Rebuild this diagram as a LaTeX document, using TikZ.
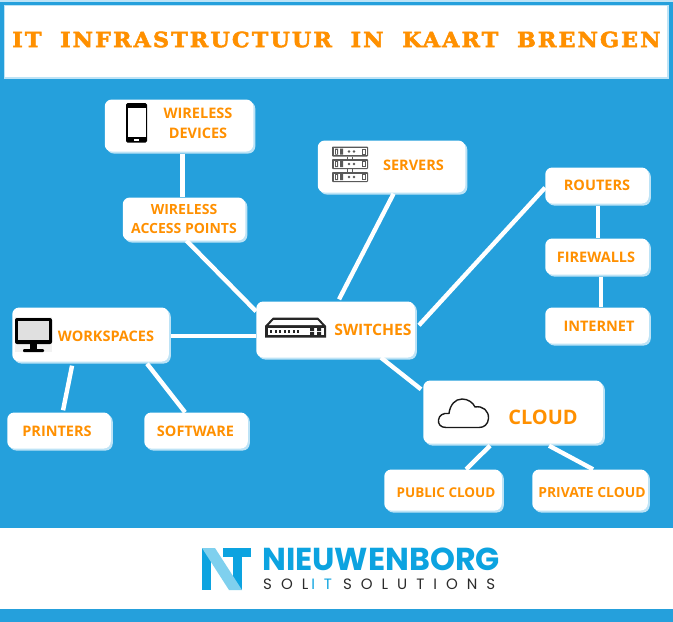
\documentclass[tikz,border=0pt]{standalone}
\usepackage{fontspec}
\setmainfont{Open Sans}
\newfontfamily\titlefont[UprightFont=* Bold,FakeBold=2.5,FakeStretch=1.06,LetterSpace=10,WordSpace=1.9]{DejaVu Serif}
\newfontfamily\logofont{Poppins}
\newfontfamily\logosub[LetterSpace=60]{Poppins}
\usetikzlibrary{calc,shadows}
\definecolor{bgblue}{HTML}{25A0DC}
\definecolor{edgeblue}{HTML}{BDE3F6}
\definecolor{orangetxt}{HTML}{FF9000}
\definecolor{logoblue}{HTML}{0CA3E0}
\definecolor{logolight}{HTML}{7FD0EE}
\definecolor{logodark}{HTML}{2B2B2B}
\tikzset{
  cardbox/.style 2 args={fill=white,rounded corners=7pt,minimum width=#1pt,minimum height=#2pt,inner sep=0pt,
    copy shadow={shadow xshift=2pt,shadow yshift=-2pt,fill=edgeblue,opacity=1,draw=none}},
  lab/.style={font=\fontsize{14.5}{20}\selectfont\bfseries,text=orangetxt,align=center,inner sep=0pt},
  conn/.style={draw=white,line width=4.4pt},
}
\begin{document}
\begin{tikzpicture}[x=1pt,y=-1pt]
\useasboundingbox (0,0) rectangle (673,622);
% bands
\fill[bgblue] (0,0) rectangle (673,528);
\fill[edgeblue] (0,0) rectangle (673,2);
\fill[white] (0,528) rectangle (673,609);
\fill[bgblue] (0,609) rectangle (673,622);
\fill[edgeblue] (3.5,4.5) rectangle (668.5,78.5);
\fill[white] (5,6) rectangle (667,77);
\node[inner sep=0pt,text=orangetxt] (title) at (336.5,39.5) {\titlefont\fontsize{21}{24}\selectfont IT INFRASTRUCTUUR IN KAART BRENGEN};
% cards
\node[cardbox={148.5}{52}] (wd) at (179,125.5) {};
\node[cardbox={122.5}{43}] (ap) at (184,219) {};
\node[cardbox={147.5}{52}] (srv) at (391.5,166.5) {};
\node[cardbox={158.5}{56}] (sw) at (335.5,329.5) {};
\node[cardbox={103.5}{36}] (rt) at (597,185.5) {};
\node[cardbox={103.5}{36}] (fw) at (597,256.5) {};
\node[cardbox={103.5}{36}] (inet) at (597,325.5) {};
\node[cardbox={156.5}{54}] (wp) at (90.5,334.5) {};
\node[cardbox={103.5}{36}] (pr) at (59,430.5) {};
\node[cardbox={103.5}{36}] (sf) at (196,430.5) {};
\node[cardbox={179.5}{63}] (cl) at (513,412) {};
\node[cardbox={117.5}{41}] (pub) at (443,490) {};
\node[cardbox={115.5}{41}] (priv) at (590,490) {};
% connectors
\draw[conn] ($(wd.south west)+(78,2)$) -- ($(ap.north west)+(60,0)$);
\draw[conn] ($(ap.south west)+(64,0)$) -- ($(sw.north west)+(0,10)$);
\draw[conn] ($(srv.south west)+(76,1)$) -- ($(sw.north west)+(83,-2)$);
\draw[conn] ($(sw.north east)+(4,24)$) -- ($(rt.south west)+(0,-16)$);
\draw[conn] ($(rt.south west)+(53,2)$) -- ($(fw.north west)+(53,0)$);
\draw[conn] ($(fw.south west)+(56,2)$) -- ($(inet.north west)+(56,0)$);
\draw[conn] ($(wp.south east)+(2,-26)$) -- ($(sw.south west)+(0,-22)$);
\draw[conn] ($(wp.south west)+(60,4)$) -- ($(pr.north west)+(56,-2)$);
\draw[conn] ($(wp.south west)+(135,2)$) -- ($(sf.north west)+(41,0)$);
\draw[conn] ($(sw.south west)+(125,0)$) -- ($(cl.north west)+(-2,9)$);
\draw[conn] ($(cl.south west)+(67,2)$) -- ($(pub.north west)+(82,0)$);
\draw[conn] ($(cl.south west)+(126,2)$) -- ($(priv.north west)+(61,0)$);
% labels
\node[lab] (twd) at (198,123.5) {WIRELESS\\DEVICES};
\node[lab,font=\fontsize{14}{19}\selectfont\bfseries] (tap) at (184,219) {WIRELESS\\ACCESS POINTS};
\node[lab] (tsrv) at (413.5,165) {SERVERS};
\node[lab,font=\fontsize{15.7}{20}\selectfont\bfseries] (tsw) at (373,329.5) {SWITCHES};
\node[lab] (trt) at (597,185) {ROUTERS};
\node[lab] (tfw) at (596,257) {FIREWALLS};
\node[lab] (tin) at (599,326) {INTERNET};
\node[lab] (twp) at (106,336) {WORKSPACES};
\node[lab] (tpr) at (57,431) {PRINTERS};
\node[lab] (tsf) at (195.5,431) {SOFTWARE};
\node[lab,font=\fontsize{20}{22}\selectfont\bfseries] (tcl) at (543,417.5) {CLOUD};
\node[lab,font=\fontsize{13.5}{16}\selectfont\bfseries] (tpub) at (446,492.5) {PUBLIC CLOUD};
\node[lab,font=\fontsize{13.9}{16}\selectfont\bfseries] (tpriv) at (592,492.5) {PRIVATE CLOUD};
% phone icon
\fill[black,rounded corners=1.5pt] (126,103) rectangle (147,142.5);
\fill[white] (127.5,108) rectangle (145.5,136.5);
\fill[white] (134,138.5) rectangle (139,140.5);
% monitor icon
\fill[black!5] (15,317) rectangle (52,352);
\fill[black,rounded corners=2pt] (15,318) rectangle (52,344);
\fill[black!12] (18,321) rectangle (49,340);
\fill[black] (30,344) rectangle (37,349);
\fill[black,rounded corners=1pt] (23,349) rectangle (44,352);
% server icon
\foreach \yy in {146.5,159,172}{
  \fill[black!65,rounded corners=.8pt] (332,\yy) rectangle (368,\yy+10);
  \fill[white] (333.5,\yy+1.5) rectangle (366.5,\yy+8.5);
  \fill[black!65] (335,\yy+2) rectangle (338,\yy+8) (340,\yy+2) rectangle (343,\yy+8);
  \fill[white] (336,\yy+3) rectangle (337,\yy+7);
  \fill[black!65] (349,\yy+5) circle (1.4) (354,\yy+5) circle (1.4);
  \fill[black!65] (362,\yy+2) rectangle (365.5,\yy+8);
  \fill[white] (363,\yy+3) rectangle (364.5,\yy+7);
}
\draw[line width=1pt,draw=black!65] (347,156.5) -- (347,159) (352,156.5) -- (352,159) (347,169) -- (347,172) (352,169) -- (352,172);
% switch icon
\fill[black!85] (265,326) -- (273,317.5) -- (318,317.5) -- (326,326) -- (326,337.5) -- (265,337.5) -- cycle;
\fill[white] (273.5,320) -- (317.5,320) -- (322,325) -- (269,325) -- cycle;
\fill[white] (267.5,327.5) rectangle (323.5,335);
\foreach \xx in {270,274.5,...,300}{\fill[black!85] (\xx,330) rectangle (\xx+2,332.5);}
\fill[black!85] (310,327.5) rectangle (314,331) (310,332) rectangle (314,335) (317,327.5) rectangle (321,331) (317,332) rectangle (321,335);
% cloud icon
\draw[line width=1.4pt,draw=black!90,fill=white,line join=round]
 (446,427.5) .. controls (440,427.5) and (438,423.5) .. (438.5,420)
 .. controls (439,415.5) and (443,412.5) .. (449,413.5)
 .. controls (450,405) and (455,399) .. (462,399)
 .. controls (468,399) and (473,402.5) .. (475,407)
 .. controls (483,405.5) and (489,411) .. (488.5,418.5)
 .. controls (488,424.5) and (484,427.5) .. (479,427.5) -- cycle;
% logo
\fill[logoblue] (202,548) rectangle (211,590);
\fill[logoblue] (223,548) rectangle (251,557);
\fill[logoblue] (233,548) rectangle (242,590);
\fill[logolight] (202,548) -- (215,548) -- (242,590) -- (229,590) -- cycle;
\node[anchor=west,inner sep=0pt,text=logoblue] (lg1) at (262,559) {\logofont\fontsize{31.7}{34}\selectfont\bfseries NIEUWENBORG};
\node[anchor=west,inner sep=0pt,text=logodark] (lg2) at (263,584.5) {\logosub\fontsize{15}{16}\selectfont SOL\hspace{3pt}\textcolor{logoblue}{IT}\hspace{11pt}SOLUTIONS};
\end{tikzpicture}
\end{document}
